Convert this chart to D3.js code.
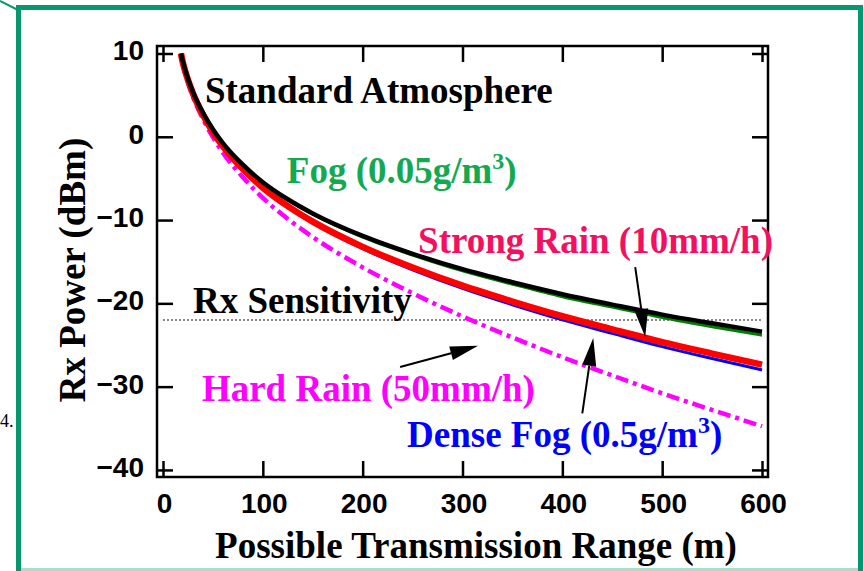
<!DOCTYPE html>
<html>
<head>
<meta charset="utf-8">
<script src="https://cdn.jsdelivr.net/npm/d3@7"></script>
<style>
    body { margin: 0; background: #fff; }
</style>
</head>
<body>
<div id="chart"></div>
<script>
///// DATA /////
const distances = [18, 20, 25, 30, 40, 50, 60, 80, 100, 125, 150, 200, 250, 300, 350, 400, 450, 500, 550, 600];
const standardAtm = [10.0, 9.0, 7.0, 5.4, 2.9, 0.9, -0.75, -3.35, -5.45, -7.5, -9.2, -11.9, -14.05, -15.9, -17.47, -18.9, -20.15, -21.35, -22.4, -23.4];
const fogLight = [10.0, 9.0, 7.0, 5.4, 2.9, 0.85, -0.8, -3.4, -5.52, -7.6, -9.3, -12.05, -14.2, -16.1, -17.7, -19.2, -20.45, -21.7, -22.8, -23.82];
const strongRain = [10.0, 8.85, 6.85, 5.2, 2.65, 0.57, -1.15, -3.88, -6.11, -8.33, -10.19, -13.22, -15.7, -17.88, -19.78, -21.54, -23.12, -24.65, -26.03, -27.36];
const denseFog = [10.0, 8.83, 6.82, 5.17, 2.6, 0.52, -1.22, -3.97, -6.22, -8.47, -10.35, -13.44, -15.97, -18.2, -20.17, -21.98, -23.6, -25.2, -26.63, -28.0];
const hardRain = [10.0, 8.7, 6.5, 4.8, 2.15, -0.05, -1.9, -4.86, -7.34, -9.86, -12.04, -15.68, -18.78, -21.57, -24.09, -26.46, -28.66, -30.8, -32.8, -34.75];

const xTicks = [0, 100, 200, 300, 400, 500, 600];
const yTicks = [-40, -30, -20, -10, 0, 10];
const rxSensitivity = -22;

// label text, position in data units (left / baseline)
const labelNames = ["Standard Atmosphere", "Fog (0.05g/m", "Strong Rain (10mm/h)", "Rx Sensitivity", "Hard Rain (50mm/h)", "Dense Fog (0.5g/m"];
const labelSup = [false, true, false, false, false, true];
const labelX = [42, 124, 255.5, 30, 39, 244.5];
const labelY = [4.05, -5.55, -13.95, -21.15, -31.7, -37.25];
const labelColors = ["#000", "#14a850", "#f5105f", "#000", "#ff00ff", "#0000ff"];

// arrows: start -> tip, data units
const arrowFrom = [[473, -15.64], [420, -33.2], [237.5, -27.65]];
const arrowTo = [[483, -24.05], [431, -24.15], [315.6, -25.1]];

///// CHART /////
const width = 864;
const height = 571;
const frame = { left: 157, right: 768, top: 46, bottom: 477 };

const svg = d3.select("#chart").append("svg")
    .attr("width", width)
    .attr("height", height)
    .attr("viewBox", [0, 0, width, height]);

// green page border
svg.append("rect")
    .attr("x", 18.5).attr("y", 7.5)
    .attr("width", 842).attr("height", 600)
    .attr("fill", "none")
    .attr("stroke", "#07976f")
    .attr("stroke-width", 5);
svg.append("line")
    .attr("x1", 0).attr("y1", 1).attr("x2", 18).attr("y2", 10)
    .attr("stroke", "#07976f").attr("stroke-width", 2);
svg.append("rect")
    .attr("x", 21).attr("y", 568).attr("width", 837).attr("height", 3)
    .attr("fill", "#a6dfcb");

svg.append("text")
    .attr("x", 0).attr("y", 427)
    .style("font", "18px 'Liberation Serif', serif")
    .text("4.");

const x = d3.scaleLinear().domain([-6, 606]).range([frame.left, frame.right]);
const y = d3.scaleLinear().domain([-40.85, 10.9]).range([frame.bottom, frame.top]);

const tickLen = 16;
const plot = svg.append("g");

// frame
plot.append("rect")
    .attr("x", frame.left).attr("y", frame.top)
    .attr("width", frame.right - frame.left).attr("height", frame.bottom - frame.top)
    .attr("fill", "none").attr("stroke", "#000").attr("stroke-width", 2.5);

// inward ticks on four sides
const axisStyle = g => g.call(g => g.select(".domain").remove())
    .call(g => g.selectAll(".tick line").attr("stroke", "#000").attr("stroke-width", 2.5))
    .call(g => g.selectAll(".tick text").remove());

plot.append("g").attr("transform", `translate(0,${frame.bottom})`)
    .call(d3.axisTop(x).tickValues(xTicks).tickSize(tickLen)).call(axisStyle);
plot.append("g").attr("transform", `translate(0,${frame.top})`)
    .call(d3.axisBottom(x).tickValues(xTicks).tickSize(tickLen)).call(axisStyle);
plot.append("g").attr("transform", `translate(${frame.left},0)`)
    .call(d3.axisRight(y).tickValues(yTicks).tickSize(tickLen)).call(axisStyle);
plot.append("g").attr("transform", `translate(${frame.right},0)`)
    .call(d3.axisLeft(y).tickValues(yTicks).tickSize(tickLen)).call(axisStyle);

// tick labels
const tickFont = "bold 28px 'Liberation Sans', Arial, sans-serif";
plot.append("g").selectAll("text")
    .data(xTicks).join("text")
    .attr("x", d => x(d) + 1.5)
    .attr("y", frame.bottom + 36)
    .attr("text-anchor", "middle")
    .style("font", tickFont)
    .text(d => d);
plot.append("g").selectAll("text")
    .data(yTicks).join("text")
    .attr("x", 144)
    .attr("y", d => y(d) + 7)
    .attr("text-anchor", "end")
    .style("font", tickFont)
    .text(d => d < 0 ? "\u2212" + Math.abs(d) : d);

// axis titles
const titleFont = "bold 37px 'Liberation Serif', 'Times New Roman', serif";
svg.append("text")
    .attr("x", 476).attr("y", 558)
    .attr("text-anchor", "middle")
    .style("font", titleFont)
    .text("Possible Transmission Range (m)");
svg.append("text")
    .attr("transform", "translate(85,270) rotate(-90)")
    .attr("text-anchor", "middle")
    .style("font", titleFont)
    .text("Rx Power (dBm)");

// sensitivity line
plot.append("line")
    .attr("x1", x(0)).attr("x2", x(600))
    .attr("y1", y(rxSensitivity)).attr("y2", y(rxSensitivity))
    .attr("stroke", "#888").attr("stroke-width", 2)
    .attr("stroke-dasharray", "2,2");

// curves, back to front
const series = [
    { values: hardRain, color: "#ff00ff", width: 4.5, dash: "13,5,4,5" },
    { values: denseFog, color: "#0000ff", width: 3, dash: null },
    { values: strongRain, color: "#ff0000", width: 6.5, dash: null },
    { values: fogLight, color: "#008000", width: 3, dash: null },
    { values: standardAtm, color: "#000000", width: 4.5, dash: null }
];

const line = d3.line()
    .x(d => x(d[0]))
    .y(d => y(d[1]))
    .curve(d3.curveMonotoneX);

plot.append("g")
    .attr("fill", "none")
    .selectAll("path")
    .data(series)
    .join("path")
    .attr("d", s => line(distances.map((d, i) => [d, s.values[i]])))
    .attr("stroke", s => s.color)
    .attr("stroke-width", s => s.width)
    .attr("stroke-dasharray", s => s.dash);

// labels
const labelFont = "bold 37px 'Liberation Serif', 'Times New Roman', serif";
const labels = plot.append("g").selectAll("text")
    .data(labelNames)
    .join("text")
    .attr("x", (d, i) => x(labelX[i]))
    .attr("y", (d, i) => y(labelY[i]))
    .attr("fill", (d, i) => labelColors[i])
    .style("font", labelFont)
    .text(d => d);
labels.filter((d, i) => labelSup[i]).each(function () {
    const t = d3.select(this);
    t.append("tspan").attr("dy", -14).style("font-size", "24px").text("3");
    t.append("tspan").attr("dy", 14).text(")");
});

// arrows
const headLen = 28, headHalf = 7;
arrowFrom.forEach((a, i) => {
    const x0 = x(a[0]), y0 = y(a[1]);
    const x1 = x(arrowTo[i][0]), y1 = y(arrowTo[i][1]);
    const len = Math.hypot(x1 - x0, y1 - y0);
    const ux = (x1 - x0) / len, uy = (y1 - y0) / len;
    const bx = x1 - ux * headLen, by = y1 - uy * headLen;
    plot.append("line")
        .attr("x1", x0).attr("y1", y0).attr("x2", bx).attr("y2", by)
        .attr("stroke", "#000").attr("stroke-width", 2);
    plot.append("polygon")
        .attr("points", [[x1, y1], [bx - uy * headHalf, by + ux * headHalf], [bx + uy * headHalf, by - ux * headHalf]].join(" "))
        .attr("fill", "#000");
});
</script>
</body>
</html>
